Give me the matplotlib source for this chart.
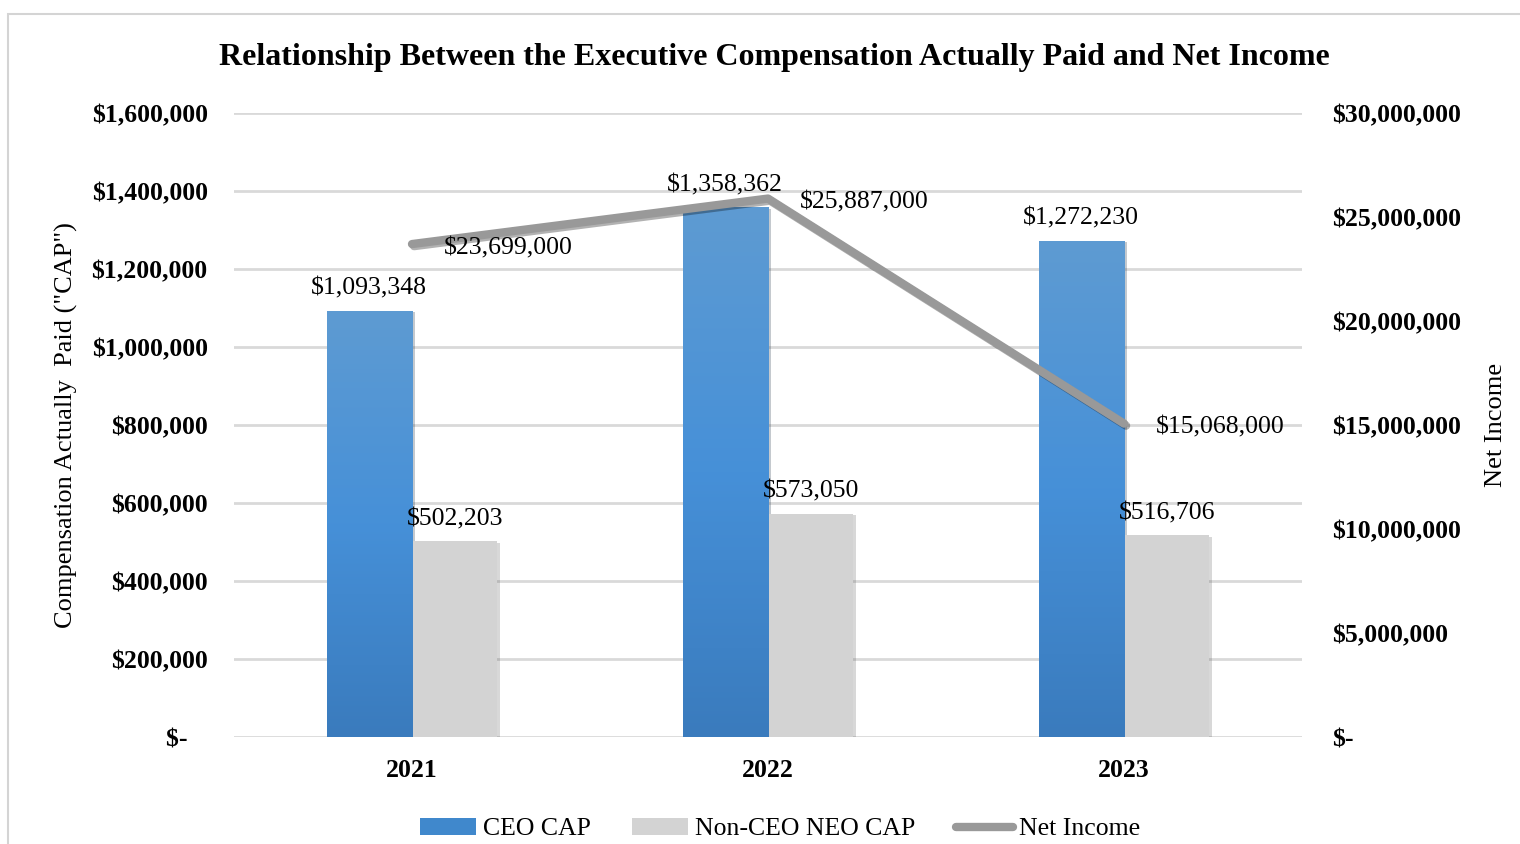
import numpy as np
import matplotlib
matplotlib.use("Agg")
import matplotlib.pyplot as plt
import matplotlib.patheffects as pe
from matplotlib.patches import Patch, Rectangle
from matplotlib.lines import Line2D
from matplotlib.colors import LinearSegmentedColormap
from matplotlib.ticker import FuncFormatter, MultipleLocator

plt.rcParams['font.family'] = ['Liberation Serif', 'DejaVu Serif']

years = ['2021', '2022', '2023']
ceo_cap = [1093348, 1358362, 1272230]
non_ceo_cap = [502203, 573050, 516706]
net_income = [23699000, 25887000, 15068000]

W, H = 1520, 844
fs = 18.5
fig = plt.figure(figsize=(W / 100, H / 100), dpi=100)
ax = fig.add_axes([234 / W, 1 - 737 / H, (1302 - 234) / W, (737 - 113) / H])
ax2 = ax.twinx()

# light frame around the whole chart
fig.patches.append(Rectangle((8 / W, -0.1), 1.2, (844 - 14) / H + 0.1,
                             transform=fig.transFigure, fill=False,
                             edgecolor='#d4d4d4', linewidth=1.5))

x = np.arange(len(years))
bw = 0.24

blue = LinearSegmentedColormap.from_list('b', ['#3a7bbd', '#4690d8', '#5e9bd2'])
ceo_bars = ax.bar(x - bw / 2, ceo_cap, bw, color='#4a8fd3', zorder=2)
for b in ceo_bars:
    x0, y0, bwid, bh = b.get_x(), b.get_y(), b.get_width(), b.get_height()
    im = ax.imshow(np.linspace(0, 1, 256).reshape(-1, 1), cmap=blue, origin='lower',
                   extent=(x0, x0 + bwid, y0, y0 + bh), aspect='auto', zorder=2.1)
    im.set_clip_path(b)
    b.set_path_effects([pe.SimplePatchShadow(offset=(2, -1), alpha=0.25), pe.Normal()])

neo_bars = ax.bar(x + bw / 2, non_ceo_cap, bw, color='#d3d3d3', zorder=2)
for b in neo_bars:
    b.set_path_effects([pe.SimplePatchShadow(offset=(2, -1), alpha=0.2), pe.Normal()])

for i in range(len(years)):
    ax.annotate(f'${ceo_cap[i]:,}', (x[i] - bw / 2, ceo_cap[i]), xytext=(0, 8),
                textcoords='offset points', ha='center', va='bottom', fontsize=fs)
    ax.annotate(f'${non_ceo_cap[i]:,}', (x[i] + bw / 2, non_ceo_cap[i]), xytext=(0, 8),
                textcoords='offset points', ha='center', va='bottom', fontsize=fs)

ax.set_xlim(-0.5, 2.5)
ax.set_ylim(0, 1600000)
ax.yaxis.set_major_locator(MultipleLocator(200000))
ax.yaxis.set_major_formatter(FuncFormatter(lambda v, p: '$-   ' if v == 0 else f'${v:,.0f}'))
ax.grid(axis='y', color='#d9d9d9', linewidth=2, zorder=0)
ax.set_axisbelow(True)
ax.set_xticks(x)
ax.set_xticklabels(years, fontsize=fs, fontweight='bold')
ax.tick_params(axis='x', length=0, pad=16)
ax.tick_params(axis='y', length=0, pad=19, labelsize=fs)
for t in ax.get_yticklabels():
    t.set_fontweight('bold')
ax.set_ylabel('Compensation Actually  Paid ("CAP")', fontsize=19, labelpad=10)

ax2.plot(x, net_income, color='#999999', linewidth=6, solid_capstyle='round',
         solid_joinstyle='round', zorder=3,
         path_effects=[pe.SimpleLineShadow(offset=(1.5, -1.5), alpha=0.3), pe.Normal()])
for i in range(len(years)):
    ax2.annotate(f'${net_income[i]:,}', (x[i], net_income[i]), xytext=(23, -3),
                 textcoords='offset points', ha='left', va='center', fontsize=fs)
ax2.set_ylim(0, 30000000)
ax2.yaxis.set_major_locator(MultipleLocator(5000000))
ax2.yaxis.set_major_formatter(FuncFormatter(lambda v, p: '$-' if v == 0 else f'${v:,.0f}'))
ax2.tick_params(axis='y', length=0, pad=22, labelsize=fs)
for t in ax2.get_yticklabels():
    t.set_fontweight('bold')
ax2.set_ylabel('Net Income', fontsize=19, labelpad=17)

for a in (ax, ax2):
    for s in a.spines.values():
        s.set_visible(False)

fig.text(774 / W, 1 - 58 / H,
         'Relationship Between the Executive Compensation Actually Paid and Net Income',
         ha='center', va='center', fontsize=23, fontweight='bold')

handles = [Patch(facecolor='#4088cc', edgecolor='none'),
           Patch(facecolor='#d3d3d3', edgecolor='none'),
           Line2D([0], [0], color='#999999', linewidth=6, solid_capstyle='round')]
fig.legend(handles, ['CEO CAP', 'Non-CEO NEO CAP', 'Net Income'], loc='center',
           bbox_to_anchor=(780 / W, 1 - 829 / H), ncol=3, frameon=False, fontsize=fs,
           handlelength=2.2, handleheight=0.7, handletextpad=0.25, columnspacing=1.6)

fig.savefig('out.png', dpi=100)
